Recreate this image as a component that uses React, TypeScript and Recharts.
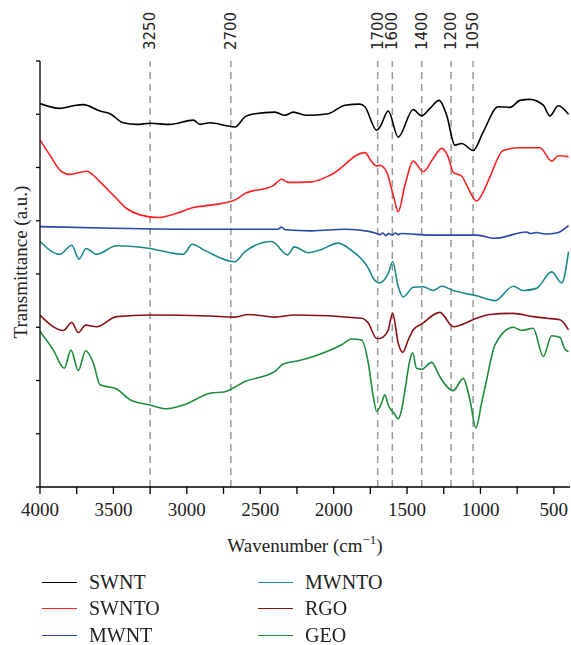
import React from 'react';
import { LineChart, Line, XAxis, YAxis, ReferenceLine } from 'recharts';

// ---- Data (wavenumber in cm^-1, transmittance in arbitrary units) ----
const swntWave = [4000,3864,3773,3705,3591,3523,3433,3341,3251,3115,2956,2910,2842,2740,2672,2604,2536,2400,2332,2275,2184,2037,1923,1821,1787,1707,1685,1628,1560,1458,1401,1344,1281,1230,1174,1128,1049,981,879,799,731,663,572,527,470,400];
const swntT = [7.20,7.11,7.16,7.18,7.06,7.01,6.84,6.81,6.83,6.81,6.89,6.81,6.84,6.79,6.76,6.95,7.01,7.04,6.98,7.04,6.98,7.01,7.17,7.19,7.14,6.70,6.76,7.06,6.57,7.09,6.97,7.11,7.26,6.98,6.42,6.45,6.32,6.67,7.14,7.13,7.26,7.28,7.17,6.97,7.16,7.00];

const swntoWave = [4000,3932,3852,3796,3682,3591,3501,3410,3319,3194,3069,2956,2876,2672,2604,2411,2354,2309,2150,2014,1787,1741,1707,1685,1639,1594,1560,1514,1458,1390,1322,1264,1220,1185,1128,1094,1026,981,936,845,731,595,515,470,400];
const swntoT = [6.52,6.23,5.92,5.87,5.93,5.73,5.48,5.23,5.11,5.06,5.14,5.25,5.28,5.39,5.51,5.66,5.78,5.72,5.73,5.87,6.28,6.11,6.03,6.04,5.92,5.48,5.17,5.67,6.12,5.92,6.17,6.36,6.20,5.91,5.84,5.67,5.37,5.54,5.82,6.32,6.37,6.37,6.12,6.22,6.20];

const mwntWave = [4000,3500,2842,2380,2354,2330,2150,1923,1760,1707,1685,1665,1645,1625,1600,1580,1560,1540,1344,1026,901,686,660,620,560,504,470,400];
const mwntT = [4.89,4.86,4.84,4.84,4.88,4.83,4.81,4.84,4.80,4.76,4.74,4.77,4.72,4.76,4.73,4.77,4.74,4.76,4.73,4.73,4.67,4.79,4.76,4.78,4.75,4.76,4.78,4.91];

const mwntoWave = [4000,3864,3784,3734,3687,3614,3478,3387,3251,3115,3024,2963,2876,2672,2604,2422,2313,2268,2173,2093,1969,1877,1764,1730,1690,1628,1598,1560,1526,1458,1390,1322,1264,1185,1026,901,777,709,618,515,447,400];
const mwntoT = [4.61,4.37,4.54,4.28,4.48,4.37,4.53,4.52,4.48,4.40,4.37,4.56,4.44,4.23,4.42,4.61,4.36,4.51,4.40,4.45,4.58,4.44,4.11,3.92,3.83,4.01,4.23,3.76,3.57,3.75,3.76,3.69,3.77,3.69,3.59,3.50,3.77,3.69,3.73,4.04,3.83,4.42];

const rgoWave = [4000,3841,3784,3739,3689,3614,3478,3251,2842,2672,2581,2400,2263,1809,1764,1707,1685,1662,1628,1598,1560,1530,1492,1458,1401,1276,1185,1026,936,777,641,549,459,400];
const rgoT = [3.23,2.94,3.09,2.90,3.04,3.01,3.20,3.23,3.21,3.19,3.24,3.19,3.23,3.17,3.08,2.79,2.79,2.82,2.95,3.26,2.70,2.53,2.76,2.95,3.06,3.28,3.01,3.17,3.24,3.26,3.20,3.17,3.14,2.95];

const geoWave = [4000,3909,3835,3789,3739,3689,3637,3591,3478,3387,3251,3137,3024,2842,2740,2604,2400,2343,2241,2127,1946,1877,1809,1764,1730,1707,1673,1651,1628,1582,1560,1537,1514,1480,1462,1435,1401,1333,1276,1230,1185,1117,1072,1031,992,958,901,777,719,641,572,515,459,425,400];
const geoT = [2.92,2.57,2.23,2.57,2.19,2.56,2.33,1.92,1.84,1.64,1.54,1.47,1.54,1.76,1.79,1.98,2.17,2.31,2.37,2.46,2.67,2.78,2.76,2.33,1.70,1.42,1.58,1.73,1.54,1.36,1.28,1.45,1.82,2.39,2.52,2.23,2.21,2.34,2.07,1.89,1.81,2.04,1.64,1.11,1.58,2.01,2.67,3.00,2.94,2.98,2.45,2.84,2.81,2.59,2.54];

const markerLines = [3250, 2700, 1700, 1600, 1400, 1200, 1050];
const xTicks = [4000,3750,3500,3250,3000,2750,2500,2250,2000,1750,1500,1250,1000,750,500];
const yTicks = [0,1,2,3,4,5,6,7,8];

const seriesNames = ['SWNT', 'SWNTO', 'MWNT', 'MWNTO', 'RGO', 'GEO'];
const seriesColors = ['#000000', '#ff2222', '#2a46a8', '#1a8a8a', '#8b1016', '#1e8c3e'];

const toPoints = (w: number[], t: number[]) => w.map((x, i) => ({ w: x, t: t[i] }));
const seriesData = [
  toPoints(swntWave, swntT),
  toPoints(swntoWave, swntoT),
  toPoints(mwntWave, mwntT),
  toPoints(mwntoWave, mwntoT),
  toPoints(rgoWave, rgoT),
  toPoints(geoWave, geoT),
];

const SERIF = '"Liberation Serif", "Times New Roman", serif';
const SANS = '"DejaVu Sans", sans-serif';

const MarkerLabel = (props: any) => {
  const vb = props.viewBox || {};
  const x = vb.x;
  const y = vb.y - 11;
  return (
    <text
      x={x}
      y={y}
      transform={`rotate(-90 ${x} ${y})`}
      textAnchor="start"
      dominantBaseline="central"
      fontFamily={SANS}
      fontSize={15}
      fill="#222"
    >
      {props.value}
    </text>
  );
};

const XLabel = (props: any) => {
  const vb = props.viewBox || {};
  const cx = vb.x + vb.width / 2;
  return (
    <text x={cx} y={552} textAnchor="middle" fontFamily={SERIF} fontSize={19} fill="#222">
      Wavenumber (cm
      <tspan dy={-8} fontSize={13}>−1</tspan>
      <tspan dy={8}>)</tspan>
    </text>
  );
};

const YLabel = () => (
  <text
    x={27}
    y={262}
    transform="rotate(-90 27 262)"
    textAnchor="middle"
    fontFamily={SERIF}
    fontSize={19}
    fill="#222"
  >
    Transmittance (a.u.)
  </text>
);

const legendCols = [[0, 1, 2], [3, 4, 5]];

export default function App() {
  return (
    <div style={{ position: 'fixed', left: 0, top: 0, width: 571, height: 645, background: '#fff' }}>
      <LineChart
        width={571}
        height={645}
        margin={{ top: 61, right: 1, bottom: 128, left: 0 }}
      >
        <XAxis
          type="number"
          dataKey="w"
          domain={[390, 4000]}
          reversed
          allowDataOverflow
          ticks={xTicks}
          interval={0}
          tickFormatter={(v: number) => (v % 500 === 0 ? String(v) : '')}
          tickSize={7}
          tickMargin={9}
          height={30}
          stroke="#000"
          strokeWidth={1.3}
          tick={{ fontFamily: SERIF, fontSize: 19, fill: '#222' }}
          label={<XLabel />}
        />
        <YAxis
          type="number"
          dataKey="t"
          domain={[0, 8]}
          ticks={yTicks}
          interval={0}
          allowDataOverflow
          width={40}
          tickSize={4}
          tickFormatter={() => ''}
          stroke="#000"
          strokeWidth={1.3}
          label={<YLabel />}
        />
        {markerLines.map((m) => (
          <ReferenceLine
            key={m}
            x={m}
            stroke="#999"
            strokeWidth={1.5}
            strokeDasharray="7 5"
            label={<MarkerLabel value={String(m)} />}
          />
        ))}
        {seriesData.map((d, i) => (
          <Line
            key={seriesNames[i]}
            data={d}
            dataKey="t"
            name={seriesNames[i]}
            type="monotone"
            stroke={seriesColors[i]}
            strokeWidth={1.6}
            dot={false}
            activeDot={false}
            isAnimationActive={false}
          />
        ))}
      </LineChart>
      {legendCols.map((col, ci) =>
        col.map((si, ri) => (
          <div
            key={seriesNames[si]}
            style={{
              position: 'absolute',
              left: ci === 0 ? 42 : 258,
              top: 582 + ri * 26.7 - 12,
              height: 24,
              display: 'flex',
              alignItems: 'center',
              fontFamily: SERIF,
              fontSize: 20,
              color: '#222',
              whiteSpace: 'nowrap',
            }}
          >
            <div style={{ width: 35, height: 0, borderTop: `1.6px solid ${seriesColors[si]}`, marginRight: 12 }} />
            <span>{seriesNames[si]}</span>
          </div>
        ))
      )}
    </div>
  );
}
